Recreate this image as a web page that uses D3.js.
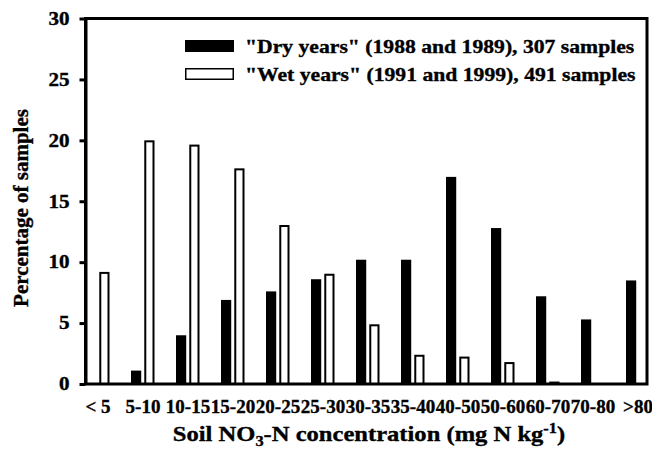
<!DOCTYPE html>
<html>
<head>
<meta charset="utf-8">
<script src="https://cdn.jsdelivr.net/npm/d3@7"></script>
<style>
  body { margin: 0; background: #fff; }
  svg text { font-family: "Liberation Serif", "Times New Roman", serif; font-weight: bold; fill: #000; stroke: #000; stroke-width: 0.35px; }
</style>
</head>
<body>
<svg id="chart" width="652" height="452"></svg>
<script>
// soil nitrate classes (mg N / kg)
var categories = ["< 5", "5-10", "10-15", "15-20", "20-25", "25-30", "30-35",
                  "35-40", "40-50", "50-60", "60-70", "70-80", ">80"];
// percentage of samples per class
var dryYears = [0, 1.1, 4.0, 6.9, 7.6, 8.6, 10.2, 10.2, 17.0, 12.8, 7.2, 5.3, 8.5];
var wetYears = [9.2, 20.0, 19.65, 17.7, 13.05, 9.05, 4.9, 2.4, 2.25, 1.8, 0.2, 0, 0];
var yTicks = [0, 5, 10, 15, 20, 25, 30];
var seriesNames = ["dry", "wet"];
var legendLabels = ['"Dry years" (1988 and 1989), 307 samples',
                    '"Wet years" (1991 and 1999), 491 samples'];

var svg = d3.select("#chart");

var plot = {left: 85.5, right: 647, top: 18.5, bottom: 384};

// the original type is a wide bold serif, so widen the text a bit
function widen(sel, k) {
  sel.each(function() {
    var len = this.getComputedTextLength();
    d3.select(this)
      .attr("textLength", len * k)
      .attr("lengthAdjust", "spacingAndGlyphs");
  });
}

var x = d3.scalePoint()
    .domain(categories)
    .range([97.5, 637.5]);

var xSub = d3.scaleBand()
    .domain(seriesNames)
    .range([-11.5, 12])
    .paddingInner(0.23);

var y = d3.scaleLinear()
    .domain([0, 30])
    .range([plot.bottom, plot.top]);

var rows = categories.map(function(c, i) {
  return {cat: c, dry: dryYears[i], wet: wetYears[i]};
});

// bars
var groups = svg.append("g").selectAll("g")
    .data(rows)
  .enter().append("g")
    .attr("transform", function(d) { return "translate(" + x(d.cat) + ",0)"; });

groups.filter(function(d) { return d.dry > 0; })
  .append("rect")
    .attr("x", xSub("dry"))
    .attr("width", xSub.bandwidth())
    .attr("y", function(d) { return y(d.dry); })
    .attr("height", function(d) { return y(0) - y(d.dry); })
    .attr("fill", "#000");

groups.filter(function(d) { return d.wet > 0; })
  .append("rect")
    .attr("x", xSub("wet") + 1)
    .attr("width", xSub.bandwidth() - 2)
    .attr("y", function(d) { return y(d.wet) + 1; })
    .attr("height", function(d) { return Math.max(0.5, y(0) - y(d.wet) - 1); })
    .attr("fill", "#fff")
    .attr("stroke", "#000")
    .attr("stroke-width", 2);

// frame
svg.append("rect")
    .attr("x", plot.left)
    .attr("y", plot.top)
    .attr("width", plot.right - plot.left)
    .attr("height", plot.bottom - plot.top)
    .attr("fill", "none")
    .attr("stroke", "#000")
    .attr("stroke-width", 3);

// y axis
var yAxis = svg.append("g")
    .attr("transform", "translate(" + plot.left + ",0)")
    .call(d3.axisLeft(y).tickValues(yTicks).tickSize(6).tickSizeOuter(0).tickPadding(10));
yAxis.select(".domain").attr("stroke-width", 3);
yAxis.selectAll(".tick line").attr("stroke-width", 3);
yAxis.selectAll("text")
    .attr("font-size", 18)
    .attr("font-family", null)
    .call(widen, 1.17);

// x axis labels
var xAxis = svg.append("g")
    .attr("transform", "translate(0," + plot.bottom + ")")
    .call(d3.axisBottom(x).tickSize(0).tickPadding(16));
xAxis.select(".domain").remove();
xAxis.selectAll("text")
    .attr("font-size", 19)
    .attr("font-family", null);

// axis titles
svg.append("text")
    .attr("transform", "translate(28,208) rotate(-90)")
    .attr("text-anchor", "middle")
    .attr("font-size", 21)
    .text("Percentage of samples");

var xt = svg.append("text")
    .attr("x", 369)
    .attr("y", 441)
    .attr("text-anchor", "middle")
    .attr("font-size", 21);
xt.append("tspan").text("Soil NO");
xt.append("tspan").attr("font-size", 14).attr("dy", 5).text("3");
xt.append("tspan").attr("dy", -5).text("-N concentration (mg N kg");
xt.append("tspan").attr("font-size", 14).attr("dy", -8).text("-1");
xt.append("tspan").attr("dy", 8).text(")");
xt.call(widen, 1.17);

// legend
var legend = svg.append("g").selectAll("g")
    .data(legendLabels)
  .enter().append("g")
    .attr("transform", function(d, i) { return "translate(185," + (40 + i * 28) + ")"; });

legend.append("rect")
    .attr("x", function(d, i) { return i ? 0.75 : 0; })
    .attr("y", function(d, i) { return i ? 0.75 : 0; })
    .attr("width", function(d, i) { return i ? 47.5 : 49; })
    .attr("height", function(d, i) { return i ? 10.5 : 12; })
    .attr("fill", function(d, i) { return i ? "#fff" : "#000"; })
    .attr("stroke", "#000")
    .attr("stroke-width", function(d, i) { return i ? 1.5 : 0; });

legend.append("text")
    .attr("x", 60)
    .attr("y", 12.5)
    .attr("font-size", 19)
    .text(function(d) { return d; })
    .call(widen, 1.14);
</script>
</body>
</html>
